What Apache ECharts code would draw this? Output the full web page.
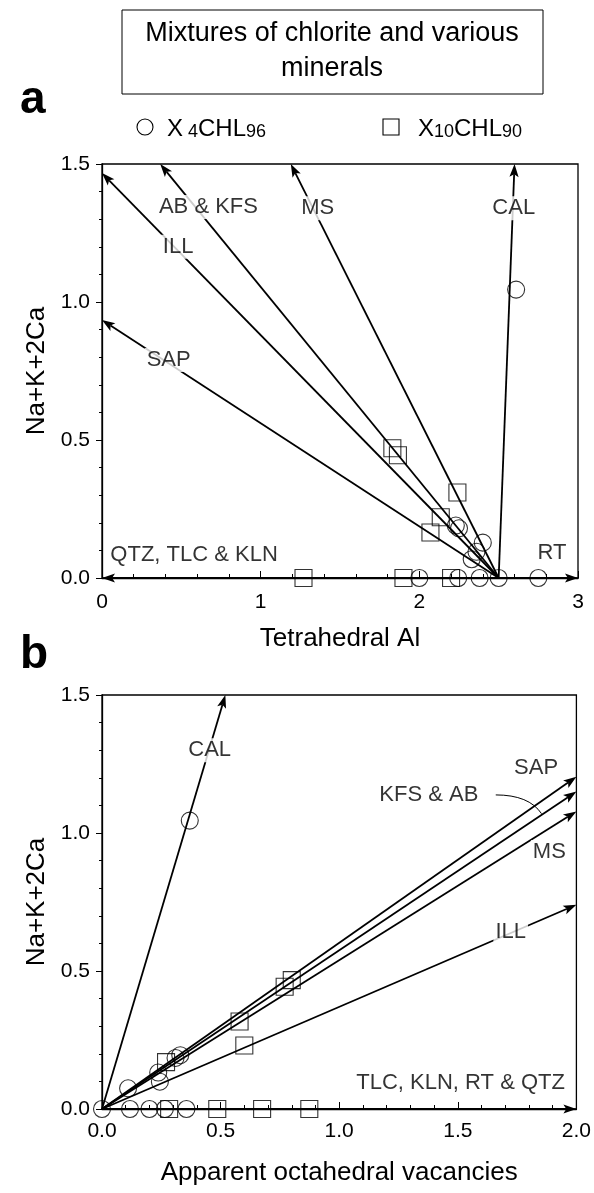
<!DOCTYPE html>
<html><head><meta charset="utf-8">
<script src="https://cdn.jsdelivr.net/npm/echarts@6/dist/echarts.min.js"></script>
<style>html,body{margin:0;padding:0;background:#fff}#c{width:594px;height:1193px}</style>
</head><body><div id="c"></div>
<script>
// ---------- Panel a : Tetrahedral Al vs Na+K+2Ca ----------
const originA = [2.5, 0];
const vecNamesA = ['QTZ, TLC & KLN', 'SAP', 'ILL', 'AB & KFS', 'MS', 'CAL', 'RT'];
const vecEndXA = [0, 0, 0, 0.367, 1.19, 2.6, 3.0];
const vecEndYA = [0, 0.935, 1.467, 1.5, 1.5, 1.5, 0];

const circXA = [2.61, 2.23, 2.25, 2.40, 2.36, 2.33, 2.0, 2.245, 2.38, 2.50, 2.75];
const circYA = [1.045, 0.19, 0.18, 0.128, 0.095, 0.068, 0, 0, 0, 0, 0];
const sqXA = [1.83, 1.865, 2.24, 2.135, 2.07, 1.27, 1.90, 2.20];
const sqYA = [0.47, 0.445, 0.31, 0.22, 0.165, 0, 0, 0];

const labTextA = ['AB & KFS', 'MS', 'CAL', 'ILL', 'SAP', 'QTZ, TLC & KLN', 'RT'];
const labXA = [0.671, 1.36, 2.595, 0.48, 0.42, 0.04, 2.94];
const labYA = [1.344, 1.34, 1.34, 1.20, 0.79, 0.083, 0.09];
const labAlignA = ['center', 'center', 'center', 'center', 'center', 'left', 'right'];

// ---------- Panel b : Apparent octahedral vacancies vs Na+K+2Ca ----------
const originB = [0, 0];
const vecNamesB = ['TLC, KLN, RT & QTZ', 'ILL', 'MS', 'KFS & AB', 'SAP', 'CAL'];
const vecEndXB = [2.0, 2.0, 2.0, 2.0, 2.0, 0.52];
const vecEndYB = [0, 0.74, 1.078, 1.15, 1.204, 1.5];

const circXB = [0, 0.11, 0.244, 0.237, 0.31, 0.33, 0.37, 0.118, 0.20, 0.265, 0.356];
const circYB = [0, 0.075, 0.099, 0.132, 0.185, 0.195, 1.045, 0, 0, 0, 0];
const sqXB = [0.27, 0.58, 0.60, 0.77, 0.80, 0.283, 0.486, 0.675, 0.874];
const sqYB = [0.17, 0.317, 0.23, 0.443, 0.467, 0, 0, 0, 0];

const labTextB = ['CAL', 'SAP', 'KFS & AB', 'MS', 'ILL', 'TLC, KLN, RT & QTZ'];
const labXB = [0.454, 1.83, 1.378, 1.886, 1.723, 1.96];
const labYB = [1.30, 1.235, 1.138, 0.931, 0.641, 0.094];
const labAlignB = ['center', 'center', 'center', 'center', 'center', 'right'];
// leader curve for "KFS & AB": start, control, end (data coords)
const leaderB = [[1.66, 1.138], [1.80, 1.138], [1.853, 1.07]];

const tickA_x = [0, 1, 2, 3];
const tickA_y = [0, 0.5, 1.0, 1.5];
const tickB_x = [0, 0.5, 1.0, 1.5, 2.0];
const tickB_y = [0, 0.5, 1.0, 1.5];

const FONT = '"Liberation Sans", Arial, Helvetica, sans-serif';

function arrowRender(params, api) {
  const p0 = api.coord([api.value(0), api.value(1)]);
  const p1 = api.coord([api.value(2), api.value(3)]);
  const dx = p1[0] - p0[0], dy = p1[1] - p0[1];
  const L = Math.hypot(dx, dy);
  const ux = dx / L, uy = dy / L, nx = -uy, ny = ux;
  const hl = 13, hw = 4.6;
  const bx = p1[0] - ux * hl, by = p1[1] - uy * hl;
  const kx = p1[0] - ux * hl * 0.78, ky = p1[1] - uy * hl * 0.78;
  return {
    type: 'group',
    children: [
      { type: 'line', shape: { x1: p0[0], y1: p0[1], x2: kx, y2: ky }, style: { stroke: '#000', lineWidth: 1.8 } },
      { type: 'polygon', shape: { points: [[p1[0], p1[1]], [bx + nx * hw, by + ny * hw], [kx, ky], [bx - nx * hw, by - ny * hw]] }, style: { fill: '#000' } }
    ]
  };
}

function vecData(origin, xs, ys) {
  return xs.map((x, i) => [origin[0], origin[1], x, ys[i]]);
}
function pts(xs, ys) { return xs.map((x, i) => [x, ys[i]]); }
function labData(texts, xs, ys, aligns) {
  return texts.map((t, i) => ({ name: t, value: [xs[i], ys[i]], label: { align: aligns[i] } }));
}

const axisLbl = { color: '#000', fontSize: 21, fontFamily: FONT };
function makeXAxis(idx, maxV, interval, ticks, decimals, nameGap, name, margin) {
  return {
    type: 'value', gridIndex: idx, min: 0, max: maxV, interval: interval,
    name: name, nameLocation: 'middle', nameGap: nameGap,
    nameTextStyle: { color: '#000', fontSize: 26, fontFamily: FONT },
    axisLine: { onZero: false, lineStyle: { color: '#000', width: 1.3 } },
    axisTick: { inside: true, length: 7, lineStyle: { color: '#000', width: 1 } },
    minorTick: { show: true, splitNumber: 5, length: 4, lineStyle: { color: '#000', width: 1 } },
    axisLabel: Object.assign({ margin: margin, formatter: v => ticks.indexOf(+v.toFixed(2)) >= 0 ? v.toFixed(decimals) : '' }, axisLbl),
    splitLine: { show: false }
  };
}
function makeYAxis(idx, ticks) {
  return {
    type: 'value', gridIndex: idx, min: 0, max: 1.5, interval: 0.5,
    name: 'Na+K+2Ca', nameLocation: 'middle', nameGap: 49,
    nameTextStyle: { color: '#000', fontSize: 26, fontFamily: FONT },
    axisLine: { onZero: false, lineStyle: { color: '#000', width: 1.3 } },
    axisTick: { inside: false, length: 6, lineStyle: { color: '#000', width: 1 } },
    minorTick: { show: true, splitNumber: 5, length: 3, lineStyle: { color: '#000', width: 1 } },
    axisLabel: Object.assign({ margin: 12, formatter: v => ticks.indexOf(+v.toFixed(2)) >= 0 ? v.toFixed(1) : '' }, axisLbl),
    splitLine: { show: false }
  };
}

const markerStyle = { color: 'rgba(0,0,0,0)', borderColor: '#000', borderWidth: 1.1 };
function scatterSeries(name, idx, symbol, data) {
  return { type: 'scatter', name: name, xAxisIndex: idx, yAxisIndex: idx, symbol: symbol, symbolSize: 17,
    itemStyle: markerStyle, data: data, z: 4, silent: true };
}
function labelSeries(idx, data) {
  return { type: 'scatter', xAxisIndex: idx, yAxisIndex: idx, symbolSize: 0, data: data, z: 10, silent: true,
    label: { show: true, position: 'inside', formatter: '{b}', color: '#000', fontSize: 22, fontFamily: FONT,
      backgroundColor: '#fff', padding: [1, 2], verticalAlign: 'middle' } };
}

const chart = echarts.init(document.getElementById('c'), null, { renderer: 'canvas' });
chart.setOption({
  animation: false,
  backgroundColor: '#fff',
  grid: [
    { left: 102, top: 164, width: 476, height: 414, show: true, borderColor: '#000', borderWidth: 1.3, backgroundColor: 'transparent' },
    { left: 102, top: 695, width: 476, height: 414, show: true, borderColor: '#000', borderWidth: 1.3, backgroundColor: 'transparent' }
  ],
  xAxis: [
    makeXAxis(0, 3, 1, tickA_x, 0, 48, 'Tetrahedral Al', 14),
    makeXAxis(1, 2, 0.5, tickB_x, 1, 51, 'Apparent octahedral vacancies', 12)
  ],
  yAxis: [makeYAxis(0, tickA_y), makeYAxis(1, tickB_y)],
  series: [
    { type: 'custom', xAxisIndex: 0, yAxisIndex: 0, renderItem: arrowRender, encode: { x: [0, 2], y: [1, 3] },
      data: vecData(originA, vecEndXA, vecEndYA), clip: false, z: 2, silent: true },
    { type: 'custom', xAxisIndex: 1, yAxisIndex: 1, renderItem: arrowRender, encode: { x: [0, 2], y: [1, 3] },
      data: vecData(originB, vecEndXB, vecEndYB), clip: false, z: 2, silent: true },
    scatterSeries('X4CHL96', 0, 'circle', pts(circXA, circYA)),
    scatterSeries('X10CHL90', 0, 'rect', pts(sqXA, sqYA)),
    scatterSeries('X4CHL96', 1, 'circle', pts(circXB, circYB)),
    scatterSeries('X10CHL90', 1, 'rect', pts(sqXB, sqYB)),
    labelSeries(0, labData(labTextA, labXA, labYA, labAlignA)),
    labelSeries(1, labData(labTextB, labXB, labYB, labAlignB)),
    { type: 'custom', xAxisIndex: 1, yAxisIndex: 1, data: [[leaderB[0][0], leaderB[0][1], leaderB[1][0], leaderB[1][1], leaderB[2][0], leaderB[2][1]]],
      encode: { x: [0, 2, 4], y: [1, 3, 5] }, clip: false, z: 3, silent: true,
      renderItem: function (params, api) {
        const a = api.coord([api.value(0), api.value(1)]);
        const c = api.coord([api.value(2), api.value(3)]);
        const b = api.coord([api.value(4), api.value(5)]);
        return { type: 'bezierCurve', shape: { x1: a[0], y1: a[1], cpx1: c[0], cpy1: c[1], x2: b[0], y2: b[1] },
          style: { stroke: '#000', lineWidth: 1, fill: null } };
      } }
  ],
  graphic: [
    { type: 'rect', shape: { x: 122, y: 10, width: 421, height: 84 }, style: { fill: '#fff', stroke: '#000', lineWidth: 1 } },
    { type: 'text', x: 332, y: 34, style: { text: 'Mixtures of chlorite and various', fontSize: 27, fontFamily: FONT, fill: '#000', textAlign: 'center', textVerticalAlign: 'middle' } },
    { type: 'text', x: 332, y: 69, style: { text: 'minerals', fontSize: 27, fontFamily: FONT, fill: '#000', textAlign: 'center', textVerticalAlign: 'middle' } },
    { type: 'text', x: 20, y: 100, style: { text: 'a', fontSize: 46, fontWeight: 'bold', fontFamily: FONT, fill: '#000', textVerticalAlign: 'middle' } },
    { type: 'text', x: 20, y: 655, style: { text: 'b', fontSize: 46, fontWeight: 'bold', fontFamily: FONT, fill: '#000', textVerticalAlign: 'middle' } },
    { type: 'circle', shape: { cx: 145, cy: 127, r: 8 }, style: { fill: 'none', stroke: '#000', lineWidth: 1.1 } },
    { type: 'text', x: 167, y: 127, style: { text: '{n|X}{s| 4}{n|CHL}{s|96}', fill: '#000', textVerticalAlign: 'middle',
        rich: { n: { fontSize: 24, fontFamily: FONT, verticalAlign: 'bottom', lineHeight: 28 }, s: { fontSize: 18, fontFamily: FONT, verticalAlign: 'bottom', lineHeight: 23 } } } },
    { type: 'rect', shape: { x: 383, y: 119, width: 16, height: 16 }, style: { fill: 'none', stroke: '#000', lineWidth: 1.1 } },
    { type: 'text', x: 418, y: 127, style: { text: '{n|X}{s|10}{n|CHL}{s|90}', fill: '#000', textVerticalAlign: 'middle',
        rich: { n: { fontSize: 24, fontFamily: FONT, verticalAlign: 'bottom', lineHeight: 28 }, s: { fontSize: 18, fontFamily: FONT, verticalAlign: 'bottom', lineHeight: 23 } } } }
  ]
});
</script></body></html>
